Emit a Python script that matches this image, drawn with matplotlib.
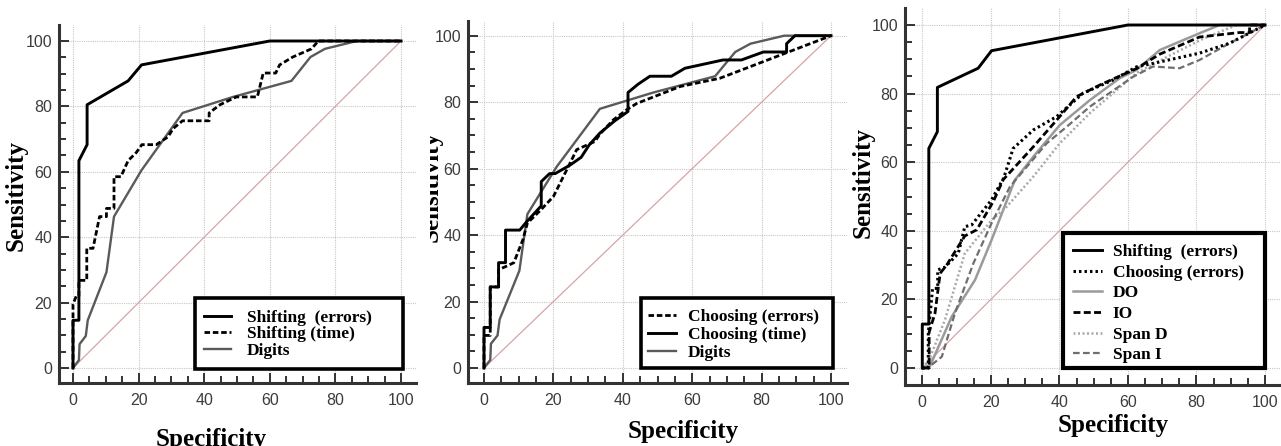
import matplotlib
matplotlib.use('Agg')
import matplotlib.pyplot as plt
from matplotlib.patches import Rectangle
from matplotlib.ticker import MultipleLocator
from matplotlib.transforms import Bbox, TransformedBbox

# ---- data (1 - specificity, sensitivity) ----
# panel A
shift_err_x = [0, 0, 1.8, 1.8, 4.3, 4.3, 16.8, 20.9, 60, 100]
shift_err_y = [0, 14.6, 14.6, 63.4, 68.3, 80.5, 87.8, 92.7, 100, 100]
shift_time_x = [0, 0, 1, 1.8, 1.8, 4.2, 4.2, 6.1, 8.1, 10.2, 10.2, 12.5, 12.5, 14.6, 16.8,
                19.3, 21, 25.4, 29, 30.5, 33.4, 41.5, 41.5, 44.8, 49.8, 56.2, 58, 61.8,
                63, 67, 72.7, 74.8, 100]
shift_time_y = [0, 19.5, 22, 22, 26.8, 26.8, 36.6, 36.6, 46.3, 46.3, 48.8, 48.8, 58.5, 58.5,
                63.4, 65.9, 68.3, 68.3, 70.7, 73.2, 75.6, 75.6, 78, 80.5, 82.9, 82.9, 90.2,
                90.2, 92.7, 95.1, 97.6, 100, 100]
digits_x = [0, 1.8, 2, 3.9, 4.5, 10.2, 12.5, 20.9, 33.4, 48.8, 66.6, 72.4, 76.8, 86.5, 100]
digits_y = [0, 2.4, 7.3, 9.8, 14.6, 29.3, 46.3, 60.5, 78, 82.9, 87.8, 95.1, 97.6, 100, 100]

# panel B
choose_err_x = [0, 0, 1.8, 1.8, 4.2, 4.2, 6.2, 8.6, 11.2, 12.5, 16.4, 20, 24.3, 26.7, 32,
                33.4, 37.3, 41.1, 44, 56.5, 68, 100]
choose_err_y = [0, 9.8, 9.8, 24.4, 24.4, 29.6, 30.5, 31.7, 38.6, 43.6, 47.6, 51.6, 60.6,
                65.7, 68.2, 70.4, 74.7, 77.7, 79.6, 84.7, 87.2, 100]
choose_time_x = [0, 0, 1.8, 1.8, 4.2, 4.2, 6.2, 6.2, 10.3, 12.2, 16.5, 16.5, 18.9, 20.5,
                 24.7, 28, 30.3, 33.4, 37.7, 41.5, 41.5, 44.4, 47.8, 54, 57.9, 68.9, 74.2,
                 80.5, 87.2, 87.2, 89.6, 100]
choose_time_y = [0, 12.2, 12.2, 24.4, 24.4, 31.7, 31.7, 41.5, 41.5, 43.9, 48.8, 56.1, 58.5,
                 58.5, 61, 63.4, 67.1, 70.7, 74.4, 77.2, 82.9, 85.4, 87.8, 87.8, 90.2, 92.7,
                 92.7, 95.1, 95.1, 97.6, 100, 100]

# panel C
shift_err3_x = [0, 0, 1.9, 1.9, 4.4, 4.4, 16.3, 20.2, 60, 100]
shift_err3_y = [0, 12.8, 12.8, 64, 68.9, 81.8, 87.4, 92.5, 100, 100]
choose_err3_x = [0, 1.75, 1.75, 3, 4.5, 4.5, 6.6, 10.5, 12.4, 14.4, 20.2, 23.8, 26.5, 32.4,
                 39.2, 46.9, 55.7, 62.5, 67.3, 80.9, 89.7, 100]
choose_err3_y = [0, 0, 10.1, 23.2, 23.2, 28.6, 29.4, 33.4, 41.2, 41.7, 49, 55.5, 64, 69.4,
                 73.3, 80.1, 84, 87.8, 88.8, 91.8, 94.7, 100]
do_x = [0, 2, 8.6, 15.4, 20.2, 27, 32.4, 40.1, 48.9, 57.6, 62.5, 69.3, 80.9, 86.8, 100]
do_y = [0, 0, 15, 25.7, 37.3, 54.8, 61.6, 70.8, 78.1, 84.5, 86.9, 92.7, 97.6, 100, 100]
io_x = [0, 2, 2, 3.7, 5.2, 7.1, 12.4, 15.9, 20.7, 23.6, 32.4, 40.1, 45, 51.8, 62.5, 69.3,
        80.9, 92.5, 95.5, 95.5, 100]
io_y = [0, 0, 10.5, 15.9, 27.6, 30, 38.5, 40.3, 48.5, 54.9, 64.5, 73.3, 79.1, 82.5, 87.3,
        91.5, 96.5, 97.8, 97.8, 100, 100]
span_d_x = [0, 2, 6.6, 12.4, 20.2, 24.6, 32.4, 40.1, 48.9, 62.5, 72, 82, 91.7, 100]
span_d_y = [0, 2.4, 14, 33.4, 43.1, 47, 55.8, 65.5, 74.3, 86, 91, 96, 100, 100]
span_i_x = [0, 2.7, 5.7, 9.5, 14.9, 20.2, 25.6, 36.3, 42.1, 48.9, 61.5, 67.3, 75.1, 80.9,
            89.7, 100]
span_i_y = [0, 0.9, 3.3, 15.9, 30.5, 42.2, 52.9, 65.5, 70.3, 76.2, 84.9, 87.9, 87.4, 89.8,
            94.7, 100]

W, H = 1281, 446
fig = plt.figure(figsize=(W / 100, H / 100), dpi=100)
serif = 'Liberation Serif'


def make_axes(left, right, top, bottom, x0, x100, y0, y100):
    # positions in pixels of the reference picture
    ax = fig.add_axes([left / W, 1 - bottom / H, (right - left) / W, (bottom - top) / H])
    sx = (x100 - x0) / 100
    sy = (y0 - y100) / 100
    ax.set_xlim((left - x0) / sx, (right - x0) / sx)
    ax.set_ylim(-(bottom - y0) / sy, (y0 - top) / sy)
    for s in ('top', 'right'):
        ax.spines[s].set_visible(False)
    for s in ('left', 'bottom'):
        ax.spines[s].set_linewidth(2.2)
        ax.spines[s].set_color('#333333')
    ax.xaxis.set_major_locator(MultipleLocator(20))
    ax.yaxis.set_major_locator(MultipleLocator(20))
    ax.xaxis.set_minor_locator(MultipleLocator(5))
    ax.yaxis.set_minor_locator(MultipleLocator(5))
    ax.tick_params(which='both', direction='in', color='#333333', width=1.4)
    ax.tick_params(which='major', length=7, labelsize=11.5, labelcolor='#3c3c3c')
    ax.tick_params(which='minor', length=5)
    ax.tick_params(axis='x', which='major', pad=7)
    ax.tick_params(axis='y', which='major', pad=5)
    for lab in ax.get_xticklabels() + ax.get_yticklabels():
        lab.set_family('Liberation Sans')
    ax.grid(True, which='major', color='#c8c8c8', lw=0.8, ls=(0, (1, 1)))
    ax.set_axisbelow(True)
    ax.plot([0, 100], [0, 100], color='#d9a3a3', lw=0.9, zorder=1.5)
    return ax


def legend_box(ax, lines, labels, x, y, hl, tp, ls, box, lw):
    x0, y0, x1, y1 = box
    ax.add_patch(Rectangle((x0 / W, 1 - y1 / H), (x1 - x0) / W, (y1 - y0) / H,
                           transform=fig.transFigure, facecolor='white', edgecolor='black',
                           lw=lw, zorder=4.5, clip_on=False))
    ax.legend(lines, labels, loc='upper left', bbox_to_anchor=(x / W, 1 - y / H),
              bbox_transform=fig.transFigure, frameon=False, borderpad=0, borderaxespad=0,
              handlelength=hl, handletextpad=tp, labelspacing=ls,
              prop=dict(family=serif, weight='bold', size=12.5))


def labels(xc, xb, yr, yc, clip=None):
    fig.text(xc / W, 1 - xb / H, 'Specificity', ha='center', va='baseline',
             family=serif, weight='bold', size=18)
    t = fig.text(yr / W, 1 - yc / H, 'Sensitivity', ha='right', va='center', rotation=90,
                 family=serif, weight='bold', size=18)
    if clip is not None:
        # the middle picture only shows the right edge of its y label
        t.set_clip_box(TransformedBbox(Bbox([[clip / W, 0], [1, 1]]), fig.transFigure))


# ---- panel A ----
ax1 = make_axes(59, 416, 25, 383, 73, 401, 368, 41)
l1, = ax1.plot(shift_err_x, shift_err_y, color='black', lw=2.1, zorder=3)
l2, = ax1.plot(shift_time_x, shift_time_y, color='black', lw=2.0, ls=(0, (2, 1)), zorder=3)
l3, = ax1.plot(digits_x, digits_y, color='#5a5a5a', lw=1.7, zorder=2.5)
legend_box(ax1, [l1, l2, l3], ['Shifting  (errors)', 'Shifting (time)', 'Digits'],
           204, 309.5, 1.55, 0.92, 0.04, (195, 298, 403, 369), 2.6)
labels(211, 446, 28, 195)

# ---- panel B ----
ax2 = make_axes(468, 847, 21, 383, 484, 831, 368, 35.7)
m1, = ax2.plot(choose_err_x, choose_err_y, color='black', lw=2.0, ls=(0, (2, 1)), zorder=3)
m2, = ax2.plot(choose_time_x, choose_time_y, color='black', lw=2.1, zorder=3)
m3, = ax2.plot(digits_x, digits_y, color='#5a5a5a', lw=1.7, zorder=2.5)
legend_box(ax2, [m1, m2, m3], ['Choosing (errors)', 'Choosing (time)', 'Digits'],
           648, 309, 1.61, 0.7, 0.1, (641, 298, 833, 368), 2.6)
labels(683, 438, 443, 186, clip=430)

# ---- panel C ----
ax3 = make_axes(905, 1281, 8, 385, 922.3, 1265, 368, 25)
n1, = ax3.plot(shift_err3_x, shift_err3_y, color='black', lw=2.1, zorder=3)
n2, = ax3.plot(choose_err3_x, choose_err3_y, color='black', lw=2.2, ls=(0, (0.8, 1)), zorder=3)
n3, = ax3.plot(do_x, do_y, color='#9a9a9a', lw=1.8, zorder=2.5)
n4, = ax3.plot(io_x, io_y, color='black', lw=2.0, ls=(0, (2.5, 1.2)), zorder=2.8)
n5, = ax3.plot(span_d_x, span_d_y, color='#a8a8a8', lw=1.8, ls=(0, (0.8, 1)), zorder=2.5)
n6, = ax3.plot(span_i_x, span_i_y, color='#6e6e6e', lw=1.6, ls=(0, (3, 1.5)), zorder=2.6)
legend_box(ax3, [n1, n2, n3, n4, n5, n6],
           ['Shifting  (errors)', 'Choosing (errors)', 'DO', 'IO', 'Span D', 'Span I'],
           1073, 244, 1.67, 0.63, 0.26, (1063, 233, 1265, 368), 3.0)
labels(1113, 432, 875, 183)

fig.savefig('out.png', dpi=100)
